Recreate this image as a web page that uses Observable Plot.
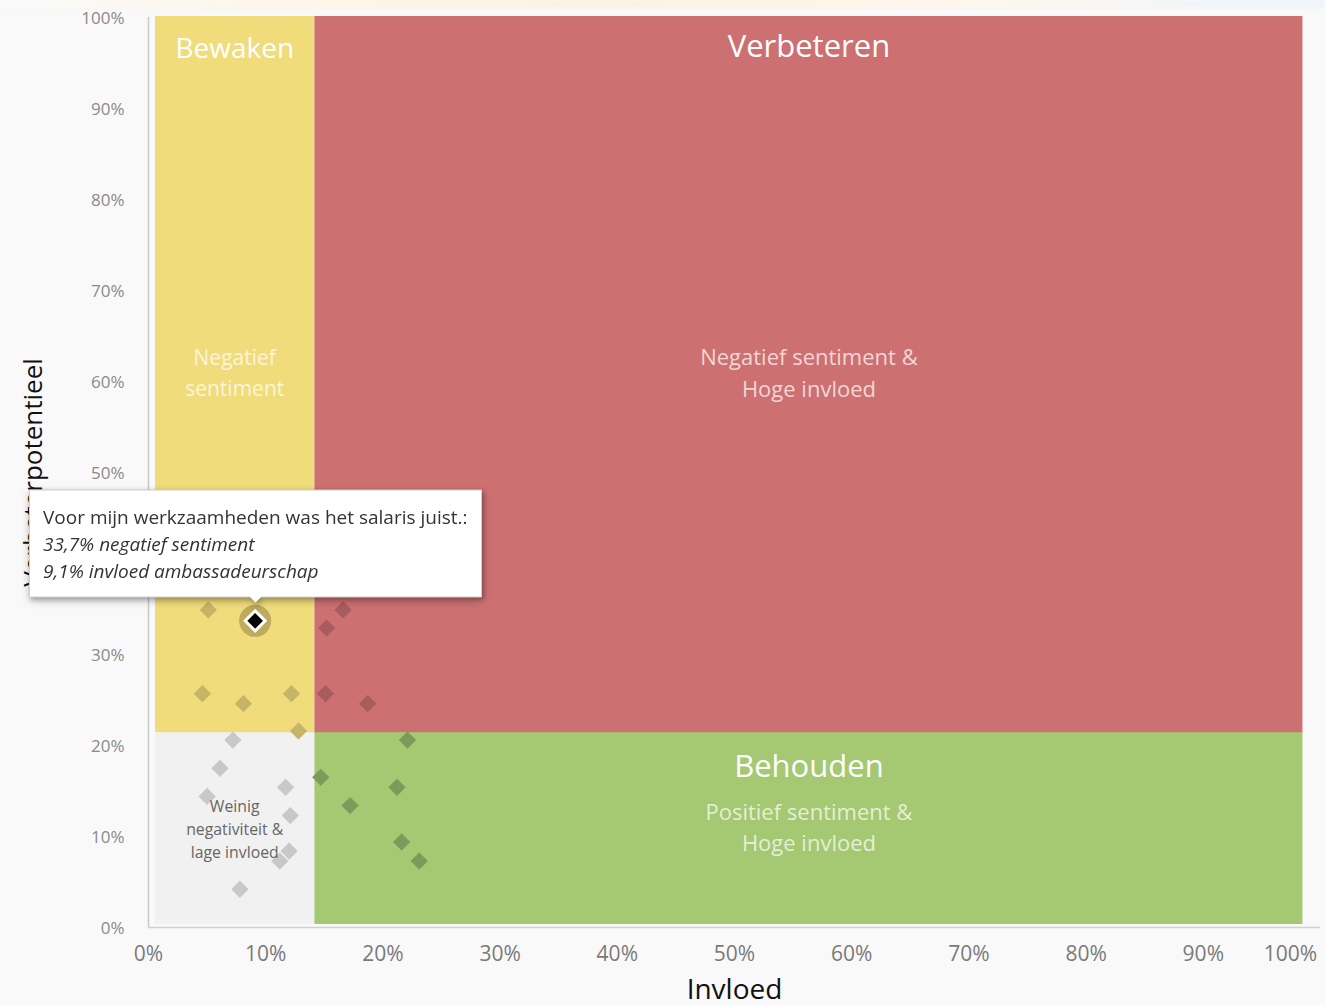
<!DOCTYPE html>
<html><head><meta charset="utf-8">
<script src="https://cdn.jsdelivr.net/npm/d3@7"></script>
<script src="https://cdn.jsdelivr.net/npm/@observablehq/plot@0.6"></script>
<style>
body{margin:0;background:#f9f9f9;font-family:"Open Sans",sans-serif;position:relative;}
#chart svg{display:block;}
#band{position:absolute;left:0;top:0;width:1325px;height:7px;background:linear-gradient(90deg,#f9f9f9 0%,#fdf6e6 18%,#fcf0d8 45%,#fdf6e8 75%,#eef3f9 92%,#eef3f9 100%);filter:blur(2px);}
</style>
</head><body><div id="chart"></div><div id="band"></div>
<script>
// Data: influence (x, %) and negative sentiment (y, %) per statement
const invloed   = [5.1, 9.1, 4.6, 8.1, 12.2, 12.8, 16.6, 15.2, 15.1, 18.7, 7.2, 6.1, 5.0, 11.7, 12.1, 12.0, 11.2, 7.8, 14.7, 17.2, 22.1, 21.2, 21.6, 23.1];
const sentiment = [34.9, 33.7, 25.7, 24.6, 25.7, 21.6, 34.9, 32.9, 25.7, 24.6, 20.6, 17.5, 14.4, 15.4, 12.3, 8.4, 7.3, 4.2, 16.5, 13.4, 20.6, 15.4, 9.4, 7.3];
const highlightIndex = 1;
const tooltipTitle = "Voor mijn werkzaamheden was het salaris juist.:";
const tooltipLines = ["33,7% negatief sentiment", "9,1% invloed ambassadeurschap"];

// Quadrant bounds
const xSplit = 14.2, ySplit = 21.3, xEnd = 98.5, yEnd = 100;
const quadrantTitles = ["Bewaken", "Verbeteren", "", "Behouden"];
const quadrantSubs = ["Negatief\nsentiment", "Negatief sentiment &\nHoge invloed", "Weinig\nnegativiteit &\nlage invloed", "Positief sentiment &\nHoge invloed"];
const quadrantFills = ["#f1dc7c", "#cd7071", "#f1f1f1", "#a5c872"];
const pointFills = ["#c6b467", "#a85c5f", "#c8c8c8", "#7c9b5a"];

const xTicks = [0, 10, 20, 30, 40, 50, 60, 70, 80, 90, 100];
const yTicks = [0, 10, 20, 30, 40, 50, 60, 70, 80, 90, 100];
const xTitle = "Invloed";
const yTitle = "Verbeterpotentieel";

// Build tables
const quads = [
  {x1: 0, x2: xSplit, y1: ySplit, y2: yEnd},
  {x1: xSplit, x2: xEnd, y1: ySplit, y2: yEnd},
  {x1: 0, x2: xSplit, y1: 0, y2: ySplit},
  {x1: xSplit, x2: xEnd, y1: 0, y2: ySplit}
].map((q, i) => ({...q, title: quadrantTitles[i], sub: quadrantSubs[i], fill: quadrantFills[i], i}));

const points = invloed.map((x, i) => {
  const y = sentiment[i];
  const qi = (x < xSplit ? 0 : 1) + (y < ySplit ? 2 : 0);
  return {x, y, fill: pointFills[qi], i};
});
const hl = points[highlightIndex];
const others = points.filter(p => p.i !== highlightIndex);

const pct = d => d + "%";
const font = "Open Sans";
const cx = q => (q.x1 + q.x2) / 2;
const cy = q => (q.y1 + q.y2) / 2;
const subFill = "rgba(255,255,255,0.72)";

const marks = [];
quads.forEach(q => {
  marks.push(Plot.rect([q], {x1: "x1", x2: "x2", y1: "y1", y2: "y2", fill: q.fill,
    insetLeft: q.x1 === 0 ? 7 : 0, insetBottom: q.y1 === 0 ? 3 : 0, insetTop: -1}));
});
marks.push(
  Plot.ruleX([0], {stroke: "#c9c9c9", strokeWidth: 1.5}),
  Plot.ruleY([0], {stroke: "#d0d0d0", strokeWidth: 1.5}),
  Plot.axisY({ticks: yTicks, tickFormat: pct, tickSize: 0, tickPadding: 24, fontSize: 17, fill: "#8a8a8a", label: null, fontFamily: font, dy: 1.5}),
  Plot.axisX({ticks: xTicks.slice(0, -1), tickFormat: pct, tickSize: 0, tickPadding: 19, fontSize: 21, fill: "#7a7a7a", label: null, fontFamily: font}),
  Plot.axisX({ticks: xTicks.slice(-1), tickFormat: pct, tickSize: 0, tickPadding: 19, fontSize: 21, fill: "#7a7a7a", label: null, dx: -30, fontFamily: font}),
  Plot.dot(others, {x: "x", y: "y", symbol: "diamond2", r: 7.8, fill: "fill"}),
  Plot.dot([hl], {x: "x", y: "y", r: 16, fill: "#bba85b", fillOpacity: 0.95}),
  Plot.dot([hl], {x: "x", y: "y", symbol: "diamond2", r: 9, fill: "black", stroke: "white", strokeWidth: 3}),
  // quadrant titles
  Plot.text(quads.filter(q => q.i === 0), {x: cx, y: "y2", text: "title", dx: 3, dy: 32, fill: "white", fontSize: 28, fontFamily: font}),
  Plot.text(quads.filter(q => q.i === 1), {x: cx, y: "y2", text: "title", dy: 30, fill: "white", fontSize: 31, fontFamily: font}),
  Plot.text(quads.filter(q => q.i === 3), {x: cx, y: "y2", text: "title", dy: 33, fill: "white", fontSize: 31, fontFamily: font}),
  // sub labels
  Plot.text(quads.filter(q => q.i === 0), {x: cx, y: cy, text: "sub", dx: 3, dy: -5, fill: subFill, fontSize: 21, lineHeight: 1.5, fontFamily: font}),
  Plot.text(quads.filter(q => q.i === 1), {x: cx, y: cy, text: "sub", dy: -5, fill: subFill, fontSize: 22, lineHeight: 1.45, fontFamily: font}),
  Plot.text(quads.filter(q => q.i === 3), {x: cx, y: cy, text: "sub", dy: -5, fill: subFill, fontSize: 22, lineHeight: 1.42, fontFamily: font}),
  Plot.text(quads.filter(q => q.i === 2), {x: cx, y: cy, text: "sub", dx: 3, dy: -3, fill: "#666", fontSize: 15.8, lineHeight: 1.45, fontFamily: font}),
  // axis titles
  Plot.text([yTitle], {text: d => d, frameAnchor: "left", textAnchor: "middle", rotate: -90, dx: -115, fontSize: 26, fill: "#111", fontFamily: font}),
  Plot.text([xTitle], {text: d => d, frameAnchor: "bottom", dy: 71, fontSize: 28, fill: "#111", fontFamily: font}),
  // tooltip
  Plot.tip([hl], {x: "x", y: "y", title: () => [tooltipTitle, ...tooltipLines].join("\n"), anchor: "bottom", dy: -18,
    fontSize: 19, fontFamily: font, lineHeight: 1.42, lineWidth: 60, textPadding: 13.5, pointerSize: 11,
    fill: "white", stroke: "#cfcfcf"})
);

const chart = Plot.plot({
  width: 1325,
  height: 1005,
  marginLeft: 148,
  marginRight: 5,
  marginTop: 17,
  marginBottom: 78,
  style: {background: "#f9f9f9", color: "#333", fontFamily: font},
  x: {domain: [0, 100]},
  y: {domain: [0, 100]},
  marks
});
document.getElementById("chart").appendChild(chart);

// italicize tooltip lines 2 and 3, add shadow
const tipG = chart.querySelector('g[aria-label="tip"]');
if (tipG) {
  tipG.style.filter = "drop-shadow(2px 2px 2px rgba(0,0,0,0.25))";
  tipG.querySelectorAll("tspan").forEach((t, i) => { if (i >= 1) t.setAttribute("font-style", "italic"); });
}
</script>
</body></html>
